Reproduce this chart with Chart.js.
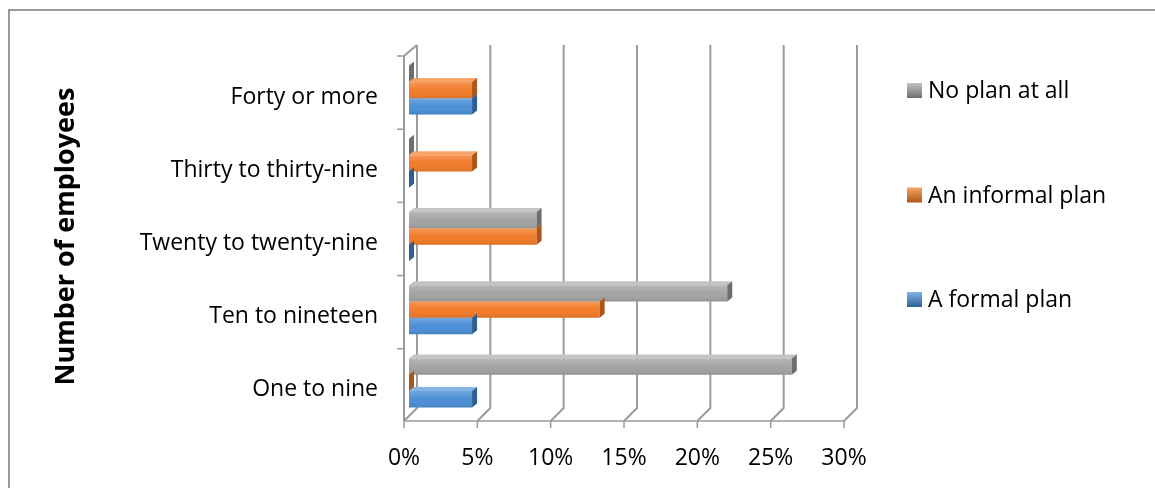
<!DOCTYPE html>
<html lang="en">
<head>
    <meta charset="UTF-8">
    <title>Planning by number of employees</title>
    <script src="https://cdn.jsdelivr.net/npm/chart.js"></script>
    <style>
        html, body { margin: 0; padding: 0; background: #fff; }
        #wrap { position: relative; width: 1155px; height: 488px; overflow: hidden; }
        #frame { position: absolute; left: 8px; top: 9px; width: 1200px; height: 600px;
                 border-left: 2px solid #9a9a9a; border-top: 2px solid #9a9a9a; pointer-events: none; }
    </style>
</head>
<body>
<div id="wrap">
    <canvas id="chart" width="1155" height="488"></canvas>
    <div id="frame"></div>
</div>

<script>
// categories, top to bottom as shown
const categories = ['Forty or more', 'Thirty to thirty-nine', 'Twenty to twenty-nine', 'Ten to nineteen', 'One to nine'];
const seriesNames = ['No plan at all', 'An informal plan', 'A formal plan'];
// percent of respondents
const noPlan   = [0, 0, 8.7, 21.7, 26.1];
const informal = [4.3, 4.3, 8.7, 13.0, 0];
const formal   = [4.3, 0, 0, 4.3, 4.3];
const xTicks = [0, 5, 10, 15, 20, 25, 30];

const FONT = "'Open Sans', sans-serif";
const front = ['#a3a3a3', '#f27b29', '#4b8fd6'];
const side  = ['#6e6e6e', '#ab561a', '#2d5f95'];
const topc  = ['#c4c4c4', '#f8a466', '#82b6ea'];

// depth of the fake 3d
const DX = 5, DY = 4;
const WALL = '#9b9b9b';

const depthPlugin = {
    id: 'depth',
    beforeDatasetsDraw(chart) {
        const ctx = chart.ctx;
        const xs = chart.scales.x;
        const area = chart.chartArea;
        ctx.save();
        ctx.strokeStyle = WALL;
        // back wall grid lines + floor edges
        xTicks.forEach(v => {
            const px = xs.getPixelForValue(v);
            ctx.lineWidth = 2;
            ctx.beginPath();
            ctx.moveTo(px + 8, area.top - 8.5);
            ctx.lineTo(px + 8, area.bottom - 11.5);
            ctx.lineTo(px - 5, area.bottom + 1.5);
            ctx.stroke();
            ctx.lineWidth = 1.5;
            ctx.beginPath();
            ctx.moveTo(px - 5, area.bottom + 1.5);
            ctx.lineTo(px - 5, area.bottom + 8.5);
            ctx.stroke();
        });
        const x0 = xs.getPixelForValue(0);
        const x1 = xs.getPixelForValue(30);
        // front floor edge
        ctx.lineWidth = 1.5;
        ctx.beginPath();
        ctx.moveTo(x0 - 5, area.bottom + 1.5);
        ctx.lineTo(x1 - 5, area.bottom + 1.5);
        ctx.stroke();
        // left wall front edge
        ctx.lineWidth = 2;
        ctx.beginPath();
        ctx.moveTo(x0 + 8, area.top - 8.5);
        ctx.lineTo(x0 - 5, area.top + 2.5);
        ctx.lineTo(x0 - 5, area.bottom + 1.5);
        ctx.stroke();
        // category tick marks
        ctx.lineWidth = 1.5;
        const step = (area.bottom - area.top) / categories.length;
        for (let i = 0; i < categories.length; i++) {
            const y = area.top + 2.5 + step * i;
            ctx.beginPath();
            ctx.moveTo(x0 - 12, y);
            ctx.lineTo(x0 - 5, y);
            ctx.stroke();
        }
        // top faces of the bars (hidden under bars above)
        chart.data.datasets.forEach((ds, di) => {
            chart.getDatasetMeta(di).data.forEach(bar => {
                const t = bar.y - bar.height / 2;
                ctx.fillStyle = topc[di];
                ctx.beginPath();
                ctx.moveTo(bar.base, t);
                ctx.lineTo(bar.base + DX, t - DY);
                ctx.lineTo(bar.x + DX, t - DY);
                ctx.lineTo(bar.x, t);
                ctx.closePath();
                ctx.fill();
            });
        });
        ctx.restore();
    },
    afterDatasetsDraw(chart) {
        const ctx = chart.ctx;
        ctx.save();
        chart.data.datasets.forEach((ds, di) => {
            chart.getDatasetMeta(di).data.forEach(bar => {
                const t = bar.y - bar.height / 2;
                const b = bar.y + bar.height / 2;
                // shading on the front face
                if (bar.x - bar.base > 0.5) {
                    const g = ctx.createLinearGradient(0, t, 0, b);
                    g.addColorStop(0, 'rgba(255,255,255,0.22)');
                    g.addColorStop(0.5, 'rgba(255,255,255,0.0)');
                    g.addColorStop(1, 'rgba(0,0,0,0.10)');
                    ctx.fillStyle = g;
                    ctx.fillRect(bar.base, t, bar.x - bar.base, b - t);
                }
                // right face
                ctx.fillStyle = side[di];
                ctx.beginPath();
                ctx.moveTo(bar.x, t);
                ctx.lineTo(bar.x + DX, t - DY);
                ctx.lineTo(bar.x + DX, b - DY);
                ctx.lineTo(bar.x, b);
                ctx.closePath();
                ctx.fill();
            });
        });
        ctx.restore();
    },
    afterDraw(chart) {
        // legend on the right
        const ctx = chart.ctx;
        const area = chart.chartArea;
        ctx.save();
        ctx.font = '23px ' + FONT;
        ctx.textBaseline = 'middle';
        chart.data.datasets.forEach((ds, i) => {
            const cy = area.top + 37 + i * 104.5;
            const bx = area.right + 58;
            const g = ctx.createLinearGradient(0, cy - 7.5, 0, cy + 7.5);
            g.addColorStop(0, topc[i]);
            g.addColorStop(1, side[i]);
            ctx.fillStyle = g;
            ctx.fillRect(bx, cy - 7.5, 15, 15);
            ctx.fillStyle = '#000';
            ctx.fillText(ds.label, bx + 21, cy + 1);
        });
        ctx.restore();
    }
};

new Chart(document.getElementById('chart'), {
    type: 'bar',
    data: {
        labels: categories,
        datasets: [
            { label: seriesNames[0], data: noPlan, backgroundColor: front[0] },
            { label: seriesNames[1], data: informal, backgroundColor: front[1] },
            { label: seriesNames[2], data: formal, backgroundColor: front[2] }
        ]
    },
    options: {
        indexAxis: 'y',
        responsive: false,
        animation: false,
        categoryPercentage: 0.67,
        barPercentage: 1,
        layout: { padding: { left: 0, right: 306, top: 53.5, bottom: 0 } },
        scales: {
            x: {
                min: 0,
                max: 30,
                afterFit: s => { s.height = 68.5; },
                grid: { display: false, drawTicks: false },
                border: { display: false },
                ticks: {
                    stepSize: 5,
                    padding: 25,
                    labelOffset: -5,
                    color: '#000',
                    font: { family: FONT, size: 23 },
                    callback: v => v + '%'
                }
            },
            y: {
                afterFit: s => { s.width = 409; },
                grid: { display: false, drawTicks: false },
                border: { display: false },
                ticks: {
                    padding: 31,
                    labelOffset: 7,
                    color: '#000',
                    font: { family: FONT, size: 23 }
                },
                title: {
                    display: true,
                    text: 'Number of employees',
                    color: '#000',
                    padding: { top: 50, bottom: 0 },
                    font: { family: FONT, size: 27, weight: 'bold' }
                }
            }
        },
        plugins: {
            legend: { display: false },
            tooltip: { enabled: false }
        }
    },
    plugins: [depthPlugin]
});
</script>
</body>
</html>
